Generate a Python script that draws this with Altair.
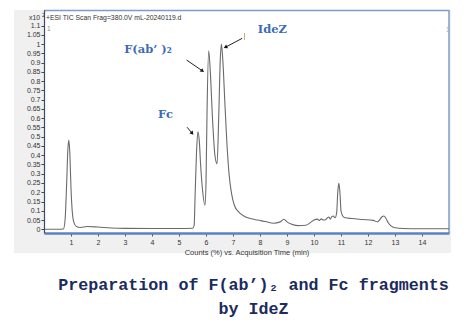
import altair as alt
import pandas as pd

# Chromatogram trace (retention time in min, relative counts x10^2)
times = [0, 0.5, 0.72, 0.78, 0.84, 0.88, 0.92, 0.96, 1.0, 1.05, 1.1, 1.2, 1.35, 1.6, 2.0,
         2.5, 3.0, 4.0, 5.0, 5.5, 5.56, 5.6, 5.65, 5.70, 5.75, 5.8, 5.88, 5.96, 6.0, 6.04,
         6.1, 6.16, 6.24, 6.33, 6.41, 6.47, 6.53, 6.57, 6.62, 6.7, 6.78, 6.86, 6.95, 7.05,
         7.2, 7.4, 7.65, 7.9, 8.2, 8.5, 8.75, 8.88, 9.0, 9.15, 9.4, 9.7, 9.9, 10.0, 10.12,
         10.2, 10.27, 10.35, 10.43, 10.5, 10.55, 10.6, 10.66, 10.71, 10.78, 10.84, 10.88,
         10.92, 10.96, 11.0, 11.05, 11.15, 11.4, 11.8, 12.2, 12.35, 12.45, 12.52, 12.59,
         12.66, 12.75, 12.85, 13.0, 13.3, 14.0, 15.0]
counts = [0.0, 0.0, 0.002, 0.05, 0.25, 0.42, 0.482, 0.40, 0.22, 0.09, 0.04, 0.015, 0.01,
          0.015, 0.012, 0.007, 0.005, 0.004, 0.004, 0.006, 0.02, 0.2, 0.42, 0.527, 0.48,
          0.35, 0.2, 0.13, 0.25, 0.65, 0.964, 0.85, 0.6, 0.4, 0.353, 0.6, 0.92, 1.0, 0.92,
          0.68, 0.45, 0.29, 0.19, 0.13, 0.095, 0.072, 0.058, 0.05, 0.042, 0.033, 0.04,
          0.054, 0.04, 0.028, 0.02, 0.022, 0.04, 0.05, 0.055, 0.048, 0.056, 0.05, 0.052,
          0.062, 0.066, 0.055, 0.068, 0.072, 0.062, 0.09, 0.2, 0.248, 0.2, 0.1, 0.075,
          0.062, 0.058, 0.053, 0.048, 0.04, 0.055, 0.068, 0.072, 0.06, 0.035, 0.018, 0.008,
          0.004, 0.003, 0.003]

x_ticks = list(range(1, 15))
y_ticks = [0, 0.05, 0.1, 0.15, 0.2, 0.25, 0.3, 0.35, 0.4, 0.45, 0.5, 0.55, 0.6, 0.65,
           0.7, 0.75, 0.8, 0.85, 0.9, 0.95, 1, 1.05, 1.1]

# Peak annotations
ann_text = ["F(ab’ )₂", "Fc", "IdeZ"]
ann_t = [3.85, 4.5, 8.46]
ann_y = [0.952, 0.603, 1.058]
arrow_t0 = [5.28, 5.30, 7.34]
arrow_y0 = [0.914, 0.551, 1.031]
arrow_t1 = [5.87, 5.49, 6.72]
arrow_y1 = [0.855, 0.518, 0.983]
arrow_angle = [126.6, 140.2, 241.7]

trace = pd.DataFrame({"t": times, "c": counts})
ann = pd.DataFrame({"label": ann_text, "t": ann_t, "y": ann_y})
arrows = pd.DataFrame({"t0": arrow_t0, "y0": arrow_y0, "t1": arrow_t1, "y1": arrow_y1,
                       "angle": arrow_angle})

W, H = 405, 223
xs = alt.Scale(domain=[0, 15], nice=False, zero=False)
ys = alt.Scale(domain=[-0.02, 1.184], nice=False, zero=False)

x_axis = alt.Axis(values=x_ticks, title="Counts (%) vs. Acquisition Time (min)",
                  titleFont="Liberation Sans", titleFontSize=7.5, titleFontWeight="normal",
                  titleColor="#333333", titlePadding=3, zindex=2,
                  labelOverlap=False, labelBound=False, labelFlush=False,
                  labelFont="Liberation Sans", labelFontSize=7, labelColor="#333333",
                  tickSize=3, tickColor="#555555", domainColor="#5b82c2",
                  domainWidth=2.5, grid=False, labelPadding=2)
y_axis = alt.Axis(values=y_ticks, format="~g", title=None, zindex=2,
                  labelOverlap=False, labelBound=False, labelFlush=False,
                  labelFont="Liberation Sans", labelFontSize=7, labelColor="#333333",
                  tickSize=3, tickColor="#444444", domainColor="#3a4a6a",
                  domainWidth=1.2, grid=False, labelPadding=1)

one = pd.DataFrame({"a": [0]})

panel = alt.Chart(one).mark_rect(color="#f0f0f0", clip=False).encode(
    x=alt.value(-30), x2=alt.value(407), y=alt.value(0), y2=alt.value(243))
plotbg = alt.Chart(one).mark_rect(color="white", clip=False).encode(
    x=alt.value(0), x2=alt.value(W), y=alt.value(0), y2=alt.value(H))
frame_top = alt.Chart(one).mark_rule(color="#7f9cc8", strokeWidth=1.5, clip=False).encode(
    x=alt.value(0), x2=alt.value(W), y=alt.value(0.5))
frame_right = alt.Chart(one).mark_rule(color="#7f9cc8", strokeWidth=1.5, clip=False).encode(
    x=alt.value(W), y=alt.value(0), y2=alt.value(H))

line = alt.Chart(trace).mark_line(color="#6a6a6a", strokeWidth=1.1, interpolate="monotone").encode(
    x=alt.X("t:Q", scale=xs, axis=x_axis),
    y=alt.Y("c:Q", scale=ys, axis=y_axis),
)

ann_labels = alt.Chart(ann).mark_text(font="DejaVu Serif", fontWeight="bold", fontSize=11.5,
                                      color="#3d6cb5", align="center", baseline="alphabetic").encode(
    x=alt.X("t:Q", scale=xs, axis=x_axis), y=alt.Y("y:Q", scale=ys, axis=y_axis), text="label:N")

arrow_lines = alt.Chart(arrows).mark_rule(color="#222222", strokeWidth=1).encode(
    x=alt.X("t0:Q", scale=xs, axis=x_axis), y=alt.Y("y0:Q", scale=ys, axis=y_axis),
    x2="t1:Q", y2="y1:Q")
arrow_heads = alt.Chart(arrows).mark_point(shape="triangle-up", filled=True, color="#111111",
                                           size=18, opacity=1).encode(
    x=alt.X("t1:Q", scale=xs, axis=x_axis), y=alt.Y("y1:Q", scale=ys, axis=y_axis),
    angle=alt.Angle("angle:Q", scale=None))

tick_mark = alt.Chart(one).mark_rule(color="#c8a878", strokeWidth=1).encode(
    x=alt.value(200.5), y=alt.value(23), y2=alt.value(30))

def ptext(txt, x, y, size=7, color="#333333", align="left", font="Liberation Sans", weight="normal"):
    return alt.Chart(one).mark_text(text=txt, fontSize=size, color=color, align=align,
                                    font=font, fontWeight=weight, baseline="alphabetic",
                                    clip=False).encode(x=alt.value(x), y=alt.value(y))

header = ptext("+ESI TIC Scan Frag=380.0V mL-20240119.d", 2, 10, size=6.8)
mult = ptext("x10", -4, 9.5, size=6.8, align="right")
mult_sup = ptext("2", -2, 6.5, size=5.5)
left_one = ptext("1", 3, 21, size=6.5, color="#888888")
right_one = ptext("1", 402, 22, size=6.5, color="#aaaaaa")

title1 = ptext("Preparation of F(ab’)₂ and Fc fragments", 209.5, 280, size=16.7,
               color="#1c2b5e", align="center", font="Liberation Mono", weight="bold")
title2 = ptext("by IdeZ", 209.5, 304, size=16.7, color="#1c2b5e", align="center",
               font="Liberation Mono", weight="bold")

chart = alt.layer(panel, plotbg, frame_top, frame_right, line, arrow_lines, arrow_heads,
                  tick_mark, ann_labels, header, mult, mult_sup, left_one, right_one,
                  title1, title2).properties(
    width=W, height=H,
    autosize=alt.AutoSizeParams(type="none"),
    padding={"left": 44, "top": 10, "right": 17, "bottom": 98},
    background="white",
).configure_view(stroke=None).configure_axis(labelOverlap=False)

chart.save("out.html", embed_options={"renderer": "svg", "actions": False})
